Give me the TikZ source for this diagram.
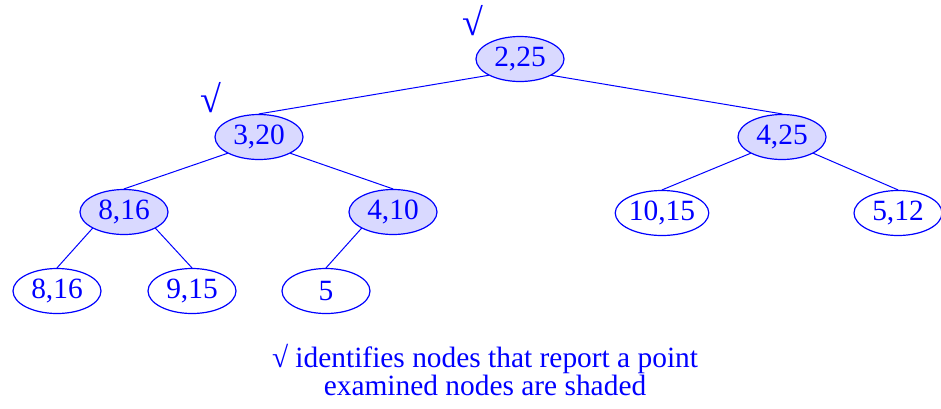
\documentclass[tikz,border=0pt]{standalone}
\usepackage{fontspec}
\setmainfont{Liberation Serif}
\usetikzlibrary{shapes.geometric}
\begin{document}
\begin{tikzpicture}[x=.5pt,y=-.5pt,line join=round,line cap=round,
  font=\fontsize{14.7}{17}\selectfont,
  every node/.style={text=blue},
  kd/.style={ellipse,draw=blue,line width=.6pt,minimum width=44pt,minimum height=22.5pt,inner sep=0pt},
  seen/.style={kd,fill=blue!15},
  tick/.style={font=\fontsize{19}{20}\selectfont,inner sep=0pt}]
\useasboundingbox (0,0) rectangle (941,408);
% shaded = examined nodes
\node[seen] (r) at (520,59) {2,25};
\node[seen] (a) at (259,137) {3,20};
\node[seen] (b) at (782,137) {4,25};
\node[seen] (aa) at (124,212) {8,16};
\node[seen] (ab) at (393,212) {4,10};
\node[kd] (ba) at (662,213) {10,15};
\node[kd] (bb) at (898,213) {5,12};
\node[kd] (aaa) at (57,291) {8,16};
\node[kd] (aab) at (192,291) {9,15};
\node[kd] (aba) at (326,291) {5};
\draw[blue,line width=.5pt] (r.south west)--(a.north) (r.south east)--(b.north)
  (a.south west)--(aa.north) (a.south east)--(ab.north)
  (b.south west)--(ba.north) (b.south east)--(bb.north)
  (aa.south west)--(aaa.north) (aa.south east)--(aab.north) (ab.south west)--(aba.north);
% reported
\node[tick] (ckr) at (473,21) {√};
\node[tick] (cka) at (211,98) {√};
\node[align=center,font=\fontsize{14.7}{13}\selectfont] (txt) at (485,370) {√ identifies nodes that report a point\\examined nodes are shaded};
\end{tikzpicture}
\end{document}
